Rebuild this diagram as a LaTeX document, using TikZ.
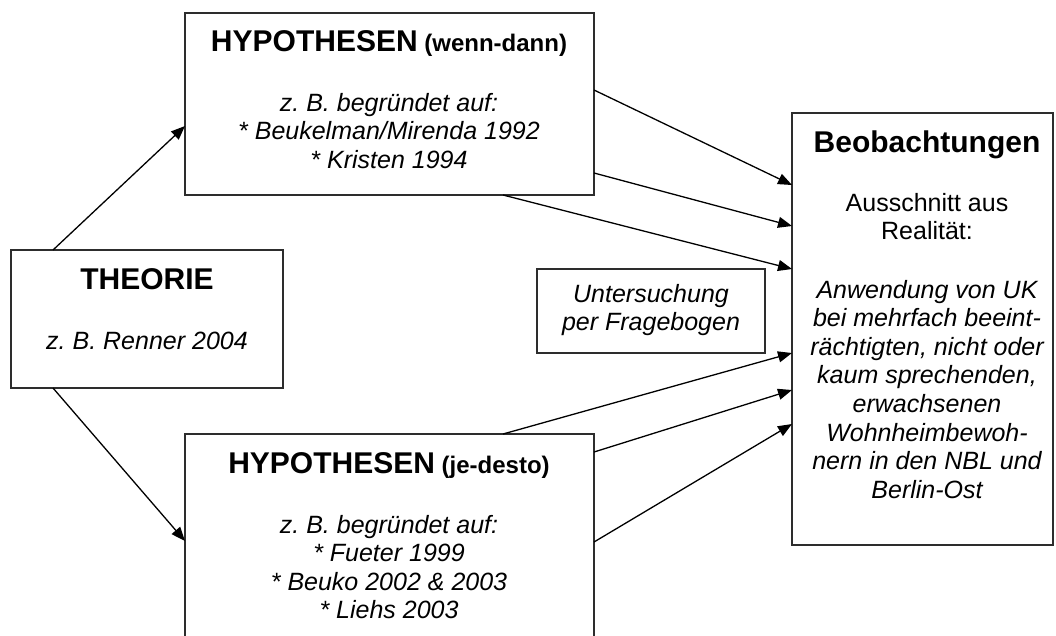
\documentclass[tikz,border=0pt]{standalone}
\usepackage{fontspec}
\setmainfont{Liberation Sans}
\usetikzlibrary{arrows.meta}
\definecolor{boxgray}{RGB}{45,45,45}
\frenchspacing
\newcommand{\mylines}[1]{\begin{tabular}[t]{@{}c@{}}#1\end{tabular}}
\begin{document}
\frenchspacing
\begin{tikzpicture}[x=1pt,y=-1pt,
  box/.style={draw=boxgray, line width=1.4pt, inner sep=0pt, outer sep=0pt},
  ttl/.style={anchor=base, inner sep=0pt, font=\fontsize{30}{34}\selectfont\bfseries},
  txt/.style={anchor=base, inner sep=0pt, font=\fontsize{25}{28.6}\selectfont},
  arr/.style={line width=1.3pt, -{Triangle[length=14pt,width=11pt]}}]
\useasboundingbox (0,0) rectangle (1056,635);
\fill[white] (0,0) rectangle (1056,635);
\clip (0,0) rectangle (1056,635);
% boxes
\node[box, minimum width=409pt, minimum height=182pt] (hyp1) at (389.5,104) {};
\node[box, minimum width=272pt, minimum height=138pt] (theo) at (147,319) {};
\node[box, minimum width=228pt, minimum height=84pt] (unt) at (651,311) {};
\node[box, minimum width=261pt, minimum height=432pt] (beob) at (922.5,329) {};
\node[box, minimum width=409pt, minimum height=266pt] (hyp2) at (389.5,567) {};
% texts
\node[ttl] (t1) at (389,51) {HYPOTHESEN{\fontsize{24}{28}\selectfont\ (wenn-dann)}};
\node[txt] (s1) at (389,111) {\itshape\mylines{z. B. begründet auf:\\ {*} Beukelman/Mirenda 1992\\ {*} Kristen 1994}};
\node[ttl] (t2) at (389,473) {HYPOTHESEN{\fontsize{24}{28}\selectfont\ (je-desto)}};
\node[txt] (s2) at (389,533) {\itshape\mylines{z. B. begründet auf:\\ {*} Fueter 1999\\ {*} Beuko 2002 \& 2003\\ {*} Liehs 2003}};
\node[ttl] (t3) at (147,289) {THEORIE};
\node[txt] (s3) at (147,349) {\itshape z. B. Renner 2004};
\node[txt] (s4) at (651,302) {\itshape\mylines{Untersuchung\\ per Fragebogen}};
\node[ttl] (t5) at (927,152) {Beobachtungen};
\node[txt] (s5) at (927,211) {\mylines{Ausschnitt aus\\ Realität:}};
\node[txt] (s6) at (927,298) {\itshape\mylines{Anwendung von UK\\ bei mehrfach beeint-\\ rächtigten, nicht oder\\ kaum sprechenden,\\ erwachsenen\\ Wohnheimbewoh-\\ nern in den NBL und\\ Berlin-Ost}};
% arrows
\draw[arr] ([xshift=42pt]theo.north west) -- ([yshift=-113pt]hyp1.north west);
\draw[arr] ([xshift=42pt]theo.south west) -- ([yshift=-107pt]hyp2.north west);
\draw[arr] ([yshift=-77pt]hyp1.north east) -- ([yshift=-72pt]beob.north west);
\draw[arr] ([yshift=-160pt]hyp1.north east) -- ([yshift=-113pt]beob.north west);
\draw[arr] ([xshift=318pt]hyp1.south west) -- ([yshift=-156pt]beob.north west);
\draw[arr] ([xshift=318pt]hyp2.north west) -- ([yshift=-240pt]beob.north west);
\draw[arr] ([yshift=-18pt]hyp2.north east) -- ([yshift=-277pt]beob.north west);
\draw[arr] ([yshift=-108pt]hyp2.north east) -- ([yshift=-311pt]beob.north west);
\end{tikzpicture}
\end{document}
